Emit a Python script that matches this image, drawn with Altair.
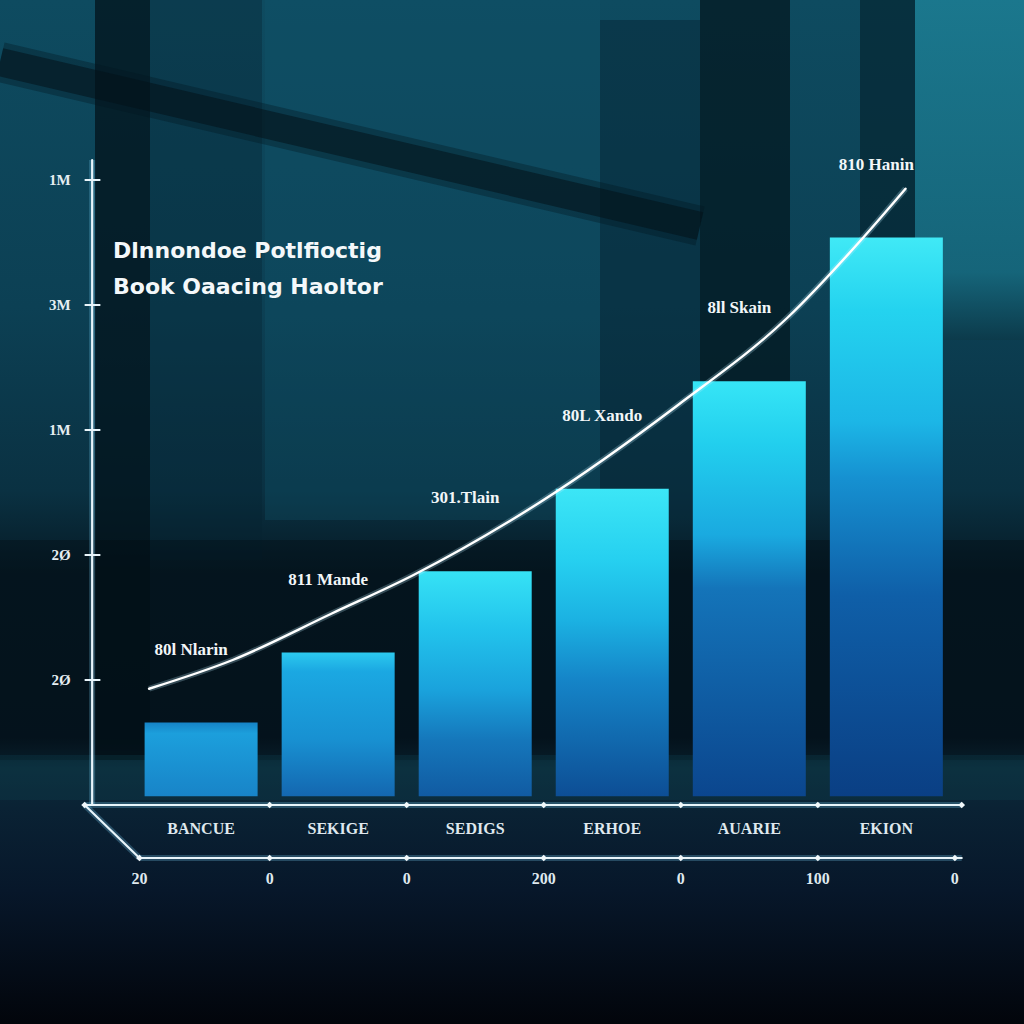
import altair as alt
import pandas as pd

# ---------------- data ----------------
TITLE_LINES = ["Dlnnondoe Potlfioctig", "Book Oaacing Haoltor"]
CATEGORIES = ["BANCUE", "SEKIGE", "SEDIGS", "ERHOE", "AUARIE", "EKION"]
BAR_VALUES = [66, 122, 187, 253, 339, 454]
BAR_LABELS = ["80l Nlarin", "811 Mande", "301.Tlain", "80L Xando", "8ll Skain", "810 Hanin"]
TREND_X = [-0.38, 0.23, 0.95, 1.55, 2.47, 3.48, 4.28, 4.84, 5.14]
TREND_Y = [93, 116, 153, 184, 242, 320, 390, 455, 493]
Y_TICKS = [100, 200, 300, 400, 500]
Y_TICK_LABELS = ["2Ø", "2Ø", "1M", "3M", "1M"]
FLOOR_TICKS = [-0.45, 0.5, 1.5, 2.5, 3.5, 4.5, 5.5]
FLOOR_LABELS = ["20", "0", "0", "200", "0", "100", "0"]
BOUNDARY_TICKS = [-0.85, 0.5, 1.5, 2.5, 3.5, 4.5, 5.55]

# ---------------- scale / layout constants ----------------
X_DOMAIN = [-1.431, 5.968]
Y_DOMAIN = [-175.2, 644.0]
BAR_FLOOR = 7
AXIS_LEFT = -0.85
AXIS_RIGHT = 5.55
Y_AXIS_X = -0.795
Y_AXIS_TOP = 516
FLOOR_Y = -42.4
FLOOR_LEFT = -0.45

BAR_GRADIENTS = [
    [(0, "#1683c6"), (0.15, "#1c9fdc"), (1, "#1884c8")],
    [(0, "#2cc9ee"), (0.13, "#1ba8e2"), (0.6, "#1891d2"), (1, "#1467b0")],
    [(0, "#36e2f5"), (0.26, "#22c3ec"), (0.53, "#1aa2dc"), (0.75, "#1577bb"), (1, "#115ba2")],
    [(0, "#3ce6f6"), (0.23, "#26d0f0"), (0.43, "#1bb1e2"), (0.62, "#1585c8"), (1, "#0d4e95")],
    [(0, "#36e5f6"), (0.15, "#22cfee"), (0.37, "#1aaae0"), (0.5, "#1474b9"), (1, "#0b468e")],
    [(0, "#40e9f6"), (0.13, "#24d3ef"), (0.33, "#1cb6e6"), (0.43, "#1691d1"), (0.64, "#0f5fa8"), (1, "#0a3f84")],
]

W = H = 1024
XS = alt.Scale(domain=X_DOMAIN, nice=False, zero=False)
YS = alt.Scale(domain=Y_DOMAIN, nice=False, zero=False)


def X(field):
    return alt.X(field, type="quantitative", scale=XS, axis=None)


def Y(field):
    return alt.Y(field, type="quantitative", scale=YS, axis=None)


def grad(stops, vertical=True):
    return alt.LinearGradient(
        gradient="linear",
        stops=[alt.GradientStop(offset=o, color=c) for o, c in stops],
        x1=0, y1=0, x2=0 if vertical else 1, y2=1 if vertical else 0,
    )


one = pd.DataFrame({"k": [0]})

# ---------------- backdrop (blurred office window) ----------------
def bg_rect(x, x2, y, y2, color, opacity=1.0):
    return alt.Chart(one).mark_rect(color=color, opacity=opacity).encode(
        x=alt.value(x), x2=alt.value(x2), y=alt.value(y), y2=alt.value(y2)
    )


def bg_beam(x, y, x2, y2, width, color, opacity):
    return alt.Chart(one).mark_rule(color=color, opacity=opacity, strokeWidth=width).encode(
        x=alt.value(x), y=alt.value(y), x2=alt.value(x2), y2=alt.value(y2)
    )


bg = [
    bg_rect(0, W, 0, H, grad([(0, "#0e4b60"), (0.3, "#0c4054"), (0.48, "#0a3142"),
                             (0.56, "#061a25"), (0.72, "#061622"), (0.75, "#0b2b3a"),
                             (0.79, "#0a2234"), (0.87, "#07172a"), (1, "#02050b")])),
    bg_rect(915, W, 0, 340, grad([(0, "#1d7f95"), (0.8, "#176b80"), (1, "#0c3a4a")]), 0.85),
    bg_rect(265, 600, 0, 520, "#11566e", 0.3),
    bg_rect(150, 262, 0, 560, "#052230", 0.35),
    bg_rect(600, 700, 20, 520, "#07293a", 0.55),
    bg_rect(95, 150, 0, 760, "#03131b", 0.75),
    bg_rect(700, 790, 0, 740, "#03151d", 0.7),
    bg_rect(860, 915, 0, 250, "#04202a", 0.6),
    bg_rect(0, W, 540, 760, "#020b12", 0.35),
    bg_rect(0, W, 755, 800, "#0f3b4a", 0.35),
    bg_beam(0, 62, 700, 226, 40, "#04161f", 0.35),
    bg_beam(0, 62, 700, 226, 28, "#03121a", 0.55),
]

# ---------------- data frames ----------------
bars_df = pd.DataFrame({
    "idx": list(range(len(CATEGORIES))),
    "cat": CATEGORIES,
    "value": BAR_VALUES,
    "base": [BAR_FLOOR] * len(CATEGORIES),
    "zero": [0] * len(CATEGORIES),
    "label": BAR_LABELS,
})
trend_df = pd.DataFrame({"x": TREND_X, "y": TREND_Y})
ytick_df = pd.DataFrame({"v": Y_TICKS, "lab": Y_TICK_LABELS,
                         "x0": [AXIS_LEFT] * len(Y_TICKS), "x1": [Y_AXIS_X + 0.06] * len(Y_TICKS)})
floor_df = pd.DataFrame({"x": FLOOR_TICKS, "lab": FLOOR_LABELS, "y": [FLOOR_Y] * len(FLOOR_TICKS)})
bound_df = pd.DataFrame({"x": BOUNDARY_TICKS, "y": [0] * len(BOUNDARY_TICKS)})
axes_df = pd.DataFrame({
    "x": [AXIS_LEFT, FLOOR_LEFT, AXIS_LEFT, Y_AXIS_X],
    "x2": [AXIS_RIGHT, AXIS_RIGHT, FLOOR_LEFT, Y_AXIS_X],
    "y": [0, FLOOR_Y, 0, 0],
    "y2": [0, FLOOR_Y, FLOOR_Y, Y_AXIS_TOP],
})
title_df = pd.DataFrame({"t": ["\n".join(TITLE_LINES)]})

# ---------------- marks ----------------
bar_layers = [
    alt.Chart(bars_df).transform_filter(alt.datum.idx == i)
    .mark_bar(size=113, color=grad(g))
    .encode(x=X("idx"), y=Y("value"), y2="base")
    for i, g in enumerate(BAR_GRADIENTS)
]

axes_glow = alt.Chart(axes_df).mark_rule(color="#7fd6ff", opacity=0.25, strokeWidth=6).encode(
    x=X("x"), x2="x2", y=Y("y"), y2="y2")
axes = alt.Chart(axes_df).mark_rule(color="#e8f4fa", strokeWidth=2.2, strokeCap="round").encode(
    x=X("x"), x2="x2", y=Y("y"), y2="y2")

yticks = alt.Chart(ytick_df).mark_rule(color="#e8f4fa", strokeWidth=2).encode(
    x=X("x0"), x2="x1", y=Y("v"))
ylabels = alt.Chart(ytick_df).mark_text(
    align="right", baseline="middle", dx=-14, font="Liberation Serif",
    fontWeight="bold", fontSize=15, color="#e6eef2"
).encode(x=X("x0"), y=Y("v"), text="lab")

diamonds_top = alt.Chart(bound_df).mark_point(
    shape="diamond", filled=True, size=45, color="#f2f8fb", opacity=1
).encode(x=X("x"), y=Y("y"))
diamonds_floor = alt.Chart(floor_df).mark_point(
    shape="diamond", filled=True, size=45, color="#f2f8fb", opacity=1
).encode(x=X("x"), y=Y("y"))

cat_labels = alt.Chart(bars_df).mark_text(
    baseline="middle", dy=24, font="Liberation Serif", fontWeight="bold",
    fontSize=16, color="#dfe8ee"
).encode(x=X("idx"), y=Y("zero"), text="cat")

floor_labels = alt.Chart(floor_df).mark_text(
    baseline="middle", dy=21, font="Liberation Serif", fontWeight="bold",
    fontSize=16, color="#dfe8ee"
).encode(x=X("x"), y=Y("y"), text="lab")

trend_glow = alt.Chart(trend_df).mark_line(
    interpolate="monotone", color="#bfefff", opacity=0.25, strokeWidth=6
).encode(x=X("x"), y=Y("y"))
trend = alt.Chart(trend_df).mark_line(
    interpolate="monotone", color="#ffffff", strokeWidth=2.4, strokeCap="round"
).encode(x=X("x"), y=Y("y"))

bar_labels = alt.Chart(bars_df).mark_text(
    baseline="middle", dx=-10, dy=-73, font="Liberation Serif", fontWeight="bold",
    fontSize=17, color="#f2f6f8"
).encode(x=X("idx"), y=Y("value"), text="label")

title = alt.Chart(title_df).mark_text(
    align="left", baseline="top", lineBreak="\n", lineHeight=36,
    font="DejaVu Sans", fontWeight="bold", fontSize=22, color="#f4f8fa"
).encode(x=alt.value(113), y=alt.value(241), text="t")

chart = alt.layer(
    *bg, *bar_layers, axes_glow, axes, yticks, ylabels, diamonds_top, diamonds_floor,
    cat_labels, floor_labels, trend_glow, trend, bar_labels, title
).properties(
    width=W, height=H, autosize=alt.AutoSizeParams(type="none"), padding=0,
    background="#061a26"
).configure_view(stroke=None)

chart.save("out.html", embed_options={"renderer": "svg", "actions": False})
